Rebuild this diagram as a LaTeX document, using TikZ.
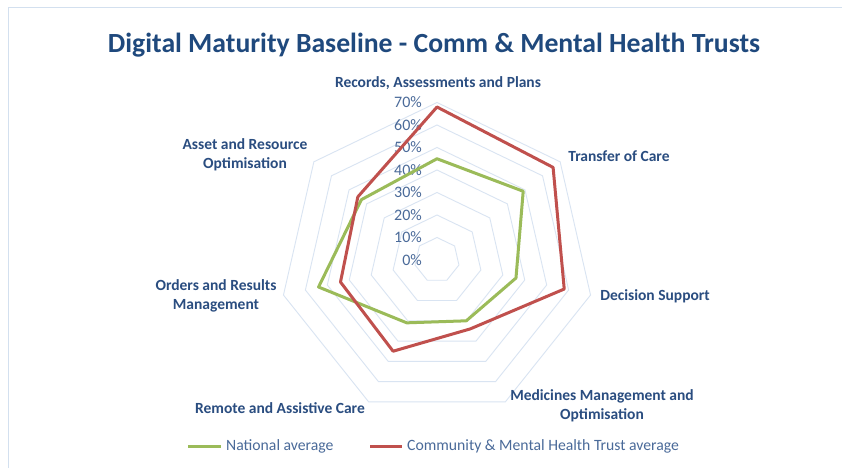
\documentclass[tikz,border=0pt]{standalone}
\usepackage{fontspec}
\setmainfont{Carlito}
\definecolor{titleblue}{HTML}{1F497D}
\definecolor{lblblue}{HTML}{2A4D80}
\definecolor{tickblue}{HTML}{4A6A99}
\definecolor{ringcol}{HTML}{D9E4F2}
\definecolor{framecol}{HTML}{D3E0EF}
\definecolor{natgreen}{HTML}{9BBB59}
\definecolor{cmhred}{HTML}{C0504D}
\tikzset{
  axislbl/.style={font=\bfseries\fontsize{15.5}{19}\selectfont, text=lblblue, align=center, inner sep=0pt},
  ticklbl/.style={font=\fontsize{16}{18}\selectfont, text=tickblue, anchor=east, inner sep=0pt},
  ring/.style={draw=ringcol, line width=0.9pt},
  series/.style={line width=3pt, line join=round},
  legtext/.style={font=\fontsize{15.7}{18}\selectfont, text=tickblue, anchor=west, inner sep=0pt}
}
\begin{document}
\begin{tikzpicture}[x=1pt,y=1pt]
\useasboundingbox (0,0) rectangle (842,468);
\fill[white] (0,0) rectangle (842,468);
% frame
\draw[framecol, line width=1.5pt] (8.5,0) -- (8.5,460.5) -- (842,460.5);
% title
\node[font=\bfseries\fontsize{27.7}{32}\selectfont, text=titleblue, inner sep=0pt] (title) at (434,423) {Digital Maturity Baseline - Comm \& Mental Health Trusts};
% rings
\begin{scope}[shift={(437,208)}]
\foreach \k in {1,...,7} {
  \draw[ring] (90:22.5*\k) \foreach \i in {1,...,6} { -- ({90-\i*360/7}:22.5*\k) } -- cycle;
}
\foreach \k/\t in {0/0\%,1/10\%,2/20\%,3/30\%,4/40\%,5/50\%,6/60\%,7/70\%} {
  \node[ticklbl] (tick\k) at (-15, 22.5*\k) {\t};
}
% data points (value in % * 2.25)
\foreach \n/\v [count=\i from 0] in {a/68,b/66,c/58,d/34,e/45,f/44,g/45} {
  \coordinate (r\n) at ({90-\i*360/7}:2.25*\v);
}
\foreach \n/\v [count=\i from 0] in {a/45,b/49,c/36,d/30,e/31,f/54,g/43} {
  \coordinate (g\n) at ({90-\i*360/7}:2.25*\v);
}
\draw[series, natgreen] (ga) -- (gb) -- (gc) -- (gd) -- (ge) -- (gf) -- (gg) -- cycle;
\draw[series, cmhred] (ra) -- (rb) -- (rc) -- (rd) -- (re) -- (rf) -- (rg) -- cycle;
\end{scope}
% axis labels
\node[axislbl] (l1) at (438,385) {Records, Assessments and Plans};
\node[axislbl] (l2) at (619,312) {Transfer of Care};
\node[axislbl] (l3) at (655,172) {Decision Support};
\node[axislbl] (l4) at (602,62) {Medicines Management and\\Optimisation};
\node[axislbl] (l5) at (280,60) {Remote and Assistive Care};
\node[axislbl] (l6) at (216,172) {Orders and Results\\Management};
\node[axislbl] (l7) at (245,313) {Asset and Resource\\Optimisation};
% legend
\coordinate (lg1) at (188,22);
\coordinate (lg2) at (221,22);
\draw[natgreen, line width=3pt] (lg1) -- (lg2);
\node[legtext] (leg1) at (226,22) {National average};
\coordinate (lr1) at (370,22);
\coordinate (lr2) at (402,22);
\draw[cmhred, line width=3pt] (lr1) -- (lr2);
\node[legtext] (leg2) at (407,22) {Community \& Mental Health Trust average};
\end{tikzpicture}
\end{document}
